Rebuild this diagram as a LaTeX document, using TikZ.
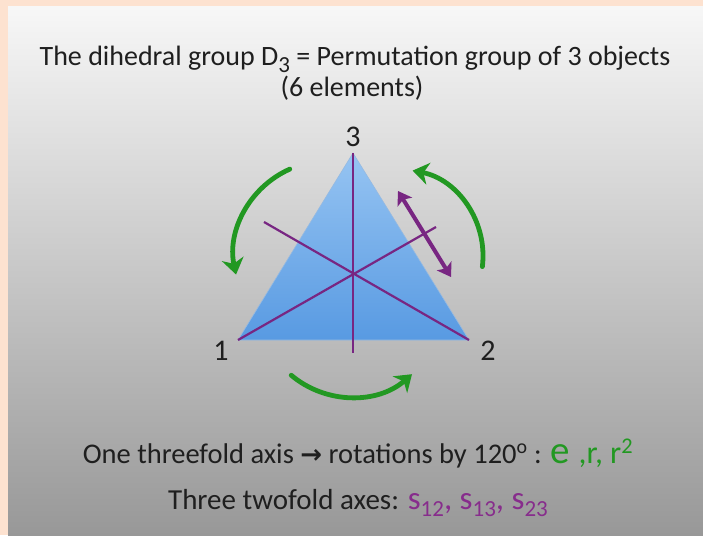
\documentclass[tikz,border=0pt]{standalone}
\usepackage{fontspec}
\setmainfont{Carlito}
\newfontfamily\symfont{DejaVu Sans}
\usetikzlibrary{arrows.meta}
\definecolor{peach}{RGB}{253,226,208}
\definecolor{slidetop}{RGB}{247,247,247}
\definecolor{slidebot}{RGB}{152,152,152}
\definecolor{tritop}{RGB}{150,196,242}
\definecolor{tribot}{RGB}{88,154,226}
\definecolor{triedge}{RGB}{150,186,225}
\definecolor{axiscol}{RGB}{120,38,130}
\definecolor{grn}{RGB}{34,152,34}
\definecolor{purp}{RGB}{135,45,140}
\newcommand{\fsz}[1]{\fontsize{#1}{#1}\selectfont}
\newcommand{\lowsub}[1]{\raisebox{-7.5pt}{\fsz{23}#1}}
\begin{document}
\begin{tikzpicture}[x=1pt,y=-1pt,
  txt/.style={inner sep=0pt, text=black!88},
  vlabel/.style={inner sep=0pt, font=\fsz{30}, text=black!88},
  axisline/.style={draw=axiscol, line width=2.2pt},
  rotarrow/.style={draw=grn, line width=4.8pt, line cap=round, -{Stealth[length=16pt,width=22pt,inset=5pt]}},
  swaparrow/.style={draw=axiscol, line width=4pt, {Stealth[length=13pt,width=17pt,inset=3pt]}-{Stealth[length=13pt,width=17pt,inset=3pt]}}
]
\useasboundingbox (0,0) rectangle (703,535);
\fill[peach] (0,0) rectangle (703,535);
\shade[top color=slidetop, bottom color=slidebot] (8,7) rectangle (703,535);

% triangle
\coordinate (v1) at (238,340);
\coordinate (v2) at (469,340);
\coordinate (v3) at (353,153);
\coordinate (e3) at (353,353);
\coordinate (e1) at (436,227);
\coordinate (e2) at (264,222);
\shadedraw[top color=tritop, bottom color=tribot, draw=triedge, line width=0.6pt] (v1) -- (v2) -- (v3) -- cycle;
\draw[axisline] (v3) -- (e3);
\draw[axisline] (v1) -- (e1);
\draw[axisline] (v2) -- (e2);

% swap arrow
\coordinate (s1) at (398,191);
\coordinate (s2) at (451,277);
\draw[swaparrow] (s1) -- (s2);

% rotation arrows
\coordinate (cl) at (328,255);
\coordinate (cr) at (396,256);
\coordinate (cb) at (351,304);
\draw[rotarrow] (cl) ++(114:94pt) arc[start angle=114, end angle=192, radius=94pt];
\draw[rotarrow] (cr) ++(-7:87pt) arc[start angle=-7, end angle=79, radius=87pt];
\draw[rotarrow] (cb) ++(-130:93pt) arc[start angle=-130, end angle=-49, radius=93pt];

% vertex labels
\node[vlabel] (n3) at (353,137) {3};
\node[vlabel] (n1) at (221,351) {1};
\node[vlabel] (n2) at (488,351) {2};

% title
\node[txt, anchor=base, font=\fsz{28}] (title) at (355,66)
  {The dihedral group D\raisebox{-6pt}{\fsz{23}3} = Permutation group of 3 objects};
\node[txt, anchor=base, font=\fsz{28}] (title2) at (352,96) {(6 elements)};

% bottom text
\node[txt, anchor=base] (rot) at (358,463)
  {\fsz{28.5}One threefold axis {\symfont\bfseries\fsz{26}→} rotations by 120\textsuperscript{o} : \textcolor{grn}{\fsz{39}e \fsz{32},r, r\textsuperscript{2}}};
\node[txt, anchor=base] (refl) at (358,509)
  {\fsz{29}Three twofold axes: \textcolor{purp}{\fsz{33}s\lowsub{12}, s\lowsub{13}, s\lowsub{23}}};
\end{tikzpicture}
\end{document}
